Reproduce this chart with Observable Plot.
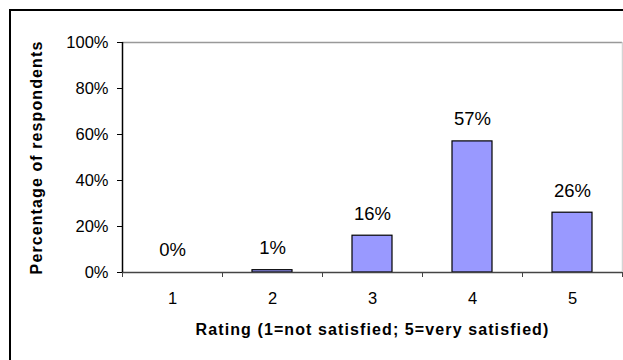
<!DOCTYPE html>
<html><head><meta charset="utf-8">
<script src="https://cdn.jsdelivr.net/npm/d3@7"></script>
<script src="https://cdn.jsdelivr.net/npm/@observablehq/plot@0.6"></script>
<style>
html,body{margin:0;padding:0;background:#fff;}
#wrap{position:relative;width:623px;height:360px;overflow:hidden;}
#frame{position:absolute;left:9px;top:9px;width:700px;height:400px;border-left:2px solid #000;border-top:2px solid #000;box-sizing:border-box;}
#wrap svg{position:absolute;left:0;top:0;}
g[aria-label="x-axis label"] text, g[aria-label="y-axis label"] text{font-weight:bold;letter-spacing:1.1px;font-size:16px;}
</style>
</head><body>
<div id="wrap"><div id="frame"></div></div>
<script>
const ratings = [1, 2, 3, 4, 5];
const percents = [0, 1, 16, 57, 26];
const yTicks = [0, 20, 40, 60, 80, 100];
const categoryBounds = [0.5, 1.5, 2.5, 3.5, 4.5, 5.5];
const xTitle = "Rating (1=not satisfied; 5=very satisfied)";
const yTitle = "Percentage of respondents";

const data = ratings.map((r, i) => ({r, p: percents[i]}));

const chart = Plot.plot({
  width: 623,
  height: 360,
  marginLeft: 122,
  marginRight: 1,
  marginTop: 42,
  marginBottom: 88,
  style: {fontFamily: "'Liberation Sans', Arial, sans-serif", fontSize: "16.5px", color: "#000", background: "transparent"},
  x: {type: "linear", domain: [0.5, 5.5]},
  y: {domain: [0, 100]},
  marks: [
    Plot.ruleY([100], {stroke: "#999", strokeWidth: 1.5}),
    Plot.ruleX([5.5], {stroke: "#d4d4d4", strokeWidth: 1.5}),
    Plot.rectY(data, {x1: d => d.r - 0.2, x2: d => d.r + 0.2, y: "p", fill: "#9999FF", stroke: "#000", strokeWidth: 1.2}),
    Plot.ruleY([0], {stroke: "#444", strokeWidth: 1.5}),
    Plot.ruleX([0.5], {stroke: "#000", strokeWidth: 1.5}),
    Plot.axisY({ticks: yTicks, tickFormat: d => d + "%", tickSize: 5, tickPadding: 9,
      label: yTitle, labelAnchor: "center", labelArrow: false, labelOffset: 92}),
    Plot.axisX({ticks: categoryBounds, tickSize: 5, tickFormat: () => "", label: null, stroke: "#444"}),
    Plot.axisX({ticks: ratings, tickSize: 0, tickPadding: 20, tickFormat: d => String(d),
      label: xTitle, labelAnchor: "center", labelArrow: false, labelOffset: 62}),
    Plot.text(data, {x: "r", y: "p", text: d => d.p + "%", dy: -22, fontSize: 18.5})
  ]
});
document.getElementById("wrap").appendChild(chart);
</script>
</body></html>
